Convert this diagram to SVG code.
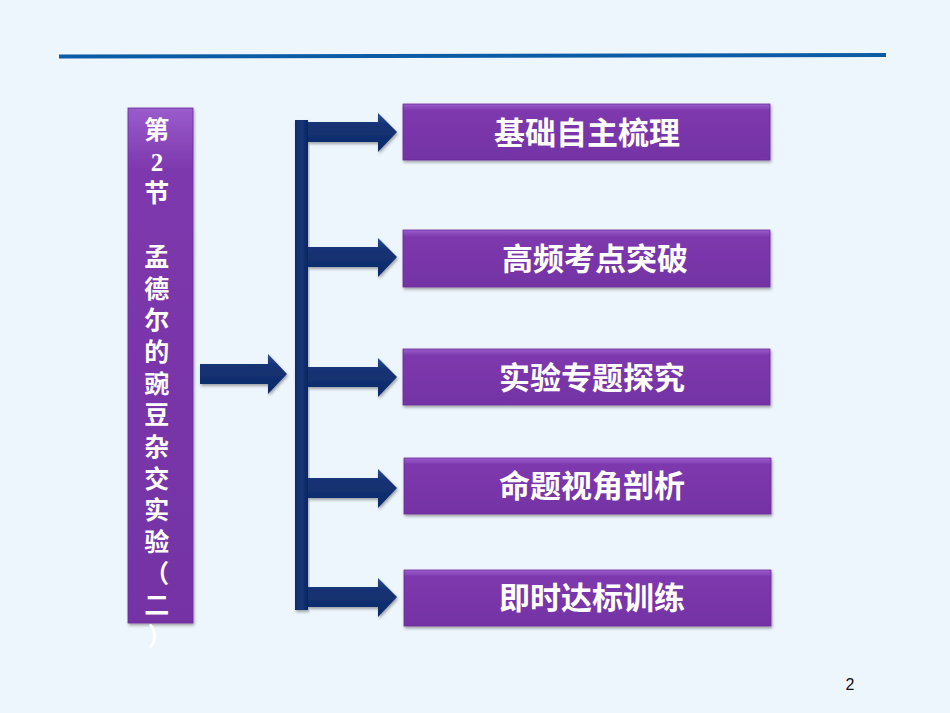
<svg xmlns="http://www.w3.org/2000/svg" width="950" height="713" viewBox="0 0 950 713">
<defs>
<linearGradient id="pg" x1="0" y1="0" x2="0" y2="1">
<stop offset="0" stop-color="#9a5ccc"/>
<stop offset="0.12" stop-color="#7d38ad"/>
<stop offset="1" stop-color="#7433a4"/>
</linearGradient>
<linearGradient id="ng" x1="0" y1="0" x2="0" y2="1">
<stop offset="0" stop-color="#2a4c8c"/>
<stop offset="0.3" stop-color="#143374"/>
<stop offset="1" stop-color="#0e2a68"/>
</linearGradient>
<linearGradient id="vg" x1="0" y1="0" x2="1" y2="0">
<stop offset="0" stop-color="#102c6c"/>
<stop offset="0.5" stop-color="#163678"/>
<stop offset="1" stop-color="#0c2660"/>
</linearGradient>
<filter id="sh" x="-10%" y="-10%" width="120%" height="130%">
<feDropShadow dx="1" dy="2" stdDeviation="1.5" flood-color="#000" flood-opacity="0.35"/>
</filter>
</defs>
<style>
.box{fill:url(#pg);stroke:#6a2c96;stroke-width:0.8;filter:url(#sh)}
.lbl{font-family:"Noto Sans CJK SC",sans-serif;font-weight:bold;font-size:31px;fill:#fff;text-anchor:middle}
.vt{font-family:"Liberation Serif","Noto Sans CJK SC",serif;font-weight:bold;font-size:25px;fill:#fff;text-anchor:middle}
.arr{fill:url(#ng);filter:url(#sh)}
</style>
<rect width="950" height="713" fill="#eef6fd"/>
<line x1="59" y1="56.5" x2="886" y2="55" stroke="#0b5ca4" stroke-width="4"/>
<text x="850" y="690" font-family="Liberation Sans, Arial, sans-serif" font-size="16" fill="#111" text-anchor="middle">2</text>

<g id="title">
<rect class="box" x="128" y="108" width="65" height="515"/>
<text class="vt" x="160">
<tspan x="160" y="139">第</tspan>
<tspan x="160" y="171">2</tspan>
<tspan x="160" y="202">节</tspan>
<tspan x="160" y="266">孟</tspan>
<tspan x="160" y="298">德</tspan>
<tspan x="160" y="329">尔</tspan>
<tspan x="160" y="361">的</tspan>
<tspan x="160" y="393">豌</tspan>
<tspan x="160" y="424">豆</tspan>
<tspan x="160" y="456">杂</tspan>
<tspan x="160" y="488">交</tspan>
<tspan x="160" y="519">实</tspan>
<tspan x="160" y="551">验</tspan>
<tspan x="160" y="583">（</tspan>
<tspan x="160" y="614">二</tspan>
<tspan x="160" y="646">）</tspan>
</text>
</g>

<g id="connectors">
<path class="arr" d="M200,364 H268 V354 L287,374 L268,394 V384 H200 Z"/>
<rect x="295" y="120" width="13" height="490" fill="url(#vg)" filter="url(#sh)"/>
<path class="arr" d="M308,122 H378 V113 L397,132 L378,152 V142 H308 Z"/>
<path class="arr" d="M308,247 H378 V238 L397,257 L378,277 V267 H308 Z"/>
<path class="arr" d="M308,367 H378 V358 L397,377 L378,397 V387 H308 Z"/>
<path class="arr" d="M308,478 H378 V469 L397,488 L378,508 V498 H308 Z"/>
<path class="arr" d="M308,587 H378 V578 L397,597 L378,617 V607 H308 Z"/>
</g>

<g id="n1"><rect class="box" x="403" y="104" width="367" height="56"/><text class="lbl" x="587" y="144">基础自主梳理</text></g>
<g id="n2"><rect class="box" x="403" y="230" width="367" height="57"/><text class="lbl" x="595" y="270">高频考点突破</text></g>
<g id="n3"><rect class="box" x="403" y="349" width="367" height="56"/><text class="lbl" x="592" y="389">实验专题探究</text></g>
<g id="n4"><rect class="box" x="404" y="458" width="367" height="56"/><text class="lbl" x="592" y="497">命题视角剖析</text></g>
<g id="n5"><rect class="box" x="404" y="570" width="367" height="56"/><text class="lbl" x="592" y="609">即时达标训练</text></g>
</svg>
